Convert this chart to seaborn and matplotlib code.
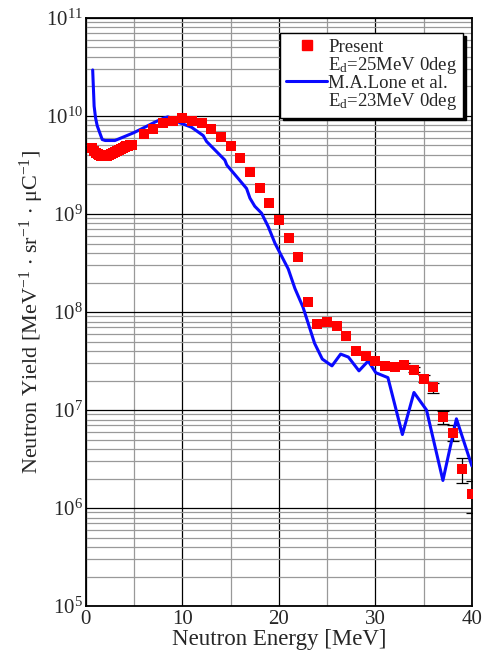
import numpy as np
import pandas as pd
import matplotlib
matplotlib.use("Agg")
import matplotlib.pyplot as plt
import seaborn as sns
from matplotlib.lines import Line2D
from matplotlib.ticker import LogLocator, MultipleLocator, NullFormatter

# ---------------- data ----------------
present_low_energy = [0.6, 0.8, 1.0, 1.2, 1.4, 1.6, 1.8, 2.0, 2.2, 2.4, 2.6,
                      2.8, 3.0, 3.2, 3.4, 3.6, 3.8, 4.0, 4.2, 4.4, 4.6, 4.8]
present_low_yield = [4.68e9, 4.37e9, 4.17e9, 4.07e9, 3.98e9, 3.89e9, 3.89e9,
                     3.89e9, 3.89e9, 3.98e9, 4.07e9, 4.17e9, 4.27e9, 4.37e9,
                     4.47e9, 4.57e9, 4.68e9, 4.79e9, 4.90e9, 4.90e9, 5.01e9, 5.01e9]
present_energy = [6, 7, 8, 9, 10, 11, 12, 13, 14, 15, 16, 17, 18, 19, 20, 21,
                  22, 23, 24, 25, 26, 27, 28, 29, 30, 31, 32, 33, 34, 35, 36,
                  37, 38, 39, 40]
present_yield = [6.61e9, 7.41e9, 8.51e9, 8.91e9, 9.55e9, 8.91e9, 8.51e9, 7.41e9,
                 6.17e9, 4.90e9, 3.72e9, 2.69e9, 1.86e9, 1.29e9, 8.71e8, 5.75e8,
                 3.63e8, 1.26e8, 7.59e7, 7.94e7, 7.24e7, 5.75e7, 3.98e7, 3.55e7,
                 3.16e7, 2.82e7, 2.75e7, 2.88e7, 2.57e7, 2.09e7, 1.70e7, 8.51e6,
                 5.89e6, 2.51e6, 1.38e6]
err_energy = [33, 34, 35, 36, 37, 38, 39, 40]
err_yield = [2.88e7, 2.57e7, 2.09e7, 1.70e7, 8.51e6, 5.89e6, 2.51e6, 1.38e6]
err_size = [1.2e6, 1.5e6, 1.6e6, 2.0e6, 1.3e6, 1.1e6, 0.7e6, 0.5e6]

lone_energy = [0.7, 0.85, 1.0, 1.17, 1.69, 2.0, 3.0, 4.0, 4.97, 6.0, 7.2, 8.1,
               8.5, 9.0, 9.74, 10.95, 12.16, 12.5, 13.5, 14.4, 14.6, 15.8,
               16.65, 17.0, 17.5, 18.2, 18.9, 19.6, 20.97, 21.66, 22.5, 23.7,
               24.5, 25.5, 26.4, 27.2, 28.3, 29.25, 30.05, 31.3, 32.8, 34.0,
               35.3, 37.0, 38.4, 40.0]
lone_yield = [2.95e10, 1.26e10, 9.55e9, 7.94e9, 5.75e9, 5.62e9, 5.62e9, 6.17e9,
              6.76e9, 7.59e9, 8.71e9, 9.55e9, 9.8e9, 9.33e9, 8.51e9, 7.67e9,
              6.31e9, 5.50e9, 4.37e9, 3.55e9, 3.16e9, 2.29e9, 1.82e9, 1.45e9,
              1.20e9, 1.02e9, 7.41e8, 5.01e8, 2.75e8, 1.74e8, 1.12e8, 4.79e7,
              3.31e7, 2.82e7, 3.72e7, 3.47e7, 2.51e7, 3.16e7, 2.40e7, 2.14e7,
              5.62e6, 1.51e7, 1.0e7, 1.91e6, 8.13e6, 2.69e6]

legend_labels = ["Present", r"E$_\mathregular{d}$=25MeV 0deg",
                 "M.A.Lone et al.", r"E$_\mathregular{d}$=23MeV 0deg"]

# ---------------- style ----------------
sns.set_theme(style="ticks")
plt.rcParams["font.family"] = ["Liberation Serif", "DejaVu Serif"]
plt.rcParams["mathtext.fontset"] = "custom"
plt.rcParams["mathtext.rm"] = "Liberation Serif"
plt.rcParams["mathtext.it"] = "Liberation Serif:italic"
plt.rcParams["mathtext.default"] = "regular"

fig = plt.figure(figsize=(4.91, 6.59), dpi=100)
ax = fig.add_axes([0.175, 0.0804, 0.786, 0.8923])

df_low = pd.DataFrame({"E": present_low_energy, "Y": present_low_yield})
df_p = pd.DataFrame({"E": present_energy, "Y": present_yield})
df_l = pd.DataFrame({"E": lone_energy, "Y": lone_yield})

ax.set_yscale("log")
ax.set_xlim(0, 40)
ax.set_ylim(1e5, 1e11)

# grid
ax.xaxis.set_major_locator(MultipleLocator(10))
ax.xaxis.set_minor_locator(MultipleLocator(5))
ax.yaxis.set_major_locator(LogLocator(base=10, numticks=20))
ax.yaxis.set_minor_locator(LogLocator(base=10, subs=np.arange(2, 10), numticks=100))
ax.yaxis.set_minor_formatter(NullFormatter())
ax.grid(True, which="major", color="black", linewidth=0.9, zorder=0)
ax.grid(True, which="minor", color="#999999", linewidth=0.9, zorder=0)
ax.set_axisbelow(True)

# error bars
ax.errorbar(err_energy, err_yield, yerr=err_size, fmt="none", ecolor="black",
            elinewidth=0.9, capsize=4, capthick=0.9, zorder=2)

sns.lineplot(data=df_l, x="E", y="Y", ax=ax, color="#0a0aff", linewidth=2.2,
             sort=False, zorder=3, legend=False)
sns.scatterplot(data=df_low, x="E", y="Y", ax=ax, marker="s", color="#ff0000",
                s=55, linewidth=0, zorder=4, legend=False)
sns.scatterplot(data=df_p, x="E", y="Y", ax=ax, marker="s", color="#ff0000",
                s=55, linewidth=0, zorder=4, legend=False)

ax.set_xlim(0, 40)
ax.set_ylim(1e5, 1e11)

ax.tick_params(which="both", direction="in", labelsize=15, length=0)
ax.tick_params(axis="x", pad=3)
ax.tick_params(axis="y", pad=2)
for s in ax.spines.values():
    s.set_color("black")
    s.set_linewidth(1.3)

ax.set_xlabel("Neutron Energy [MeV]", fontsize=16.5, labelpad=0)
ax.set_ylabel(r"Neutron Yield [MeV$^{-1}$ $\cdot$ sr$^{-1}$ $\cdot$ $\mu$C$^{-1}$]",
              fontsize=16, labelpad=0)

handles = [
    Line2D([], [], marker="s", color="#ff0000", linestyle="none", markersize=7),
    Line2D([], [], linestyle="none"),
    Line2D([], [], color="#0a0aff", linewidth=2.2),
    Line2D([], [], linestyle="none"),
]
leg = ax.legend(handles, legend_labels, loc="upper right",
                bbox_to_anchor=(0.977, 0.9745), borderaxespad=0,
                fontsize=13.5, frameon=True, fancybox=False,
                shadow={"color": "black", "alpha": 1.0},
                handlelength=2.2, handletextpad=0.05, labelspacing=-0.05,
                borderpad=0.3, framealpha=1)
leg.get_frame().set_edgecolor("black")
leg.get_frame().set_linewidth(1.0)
leg.set_zorder(10)

fig.savefig("out.png", dpi=100)
